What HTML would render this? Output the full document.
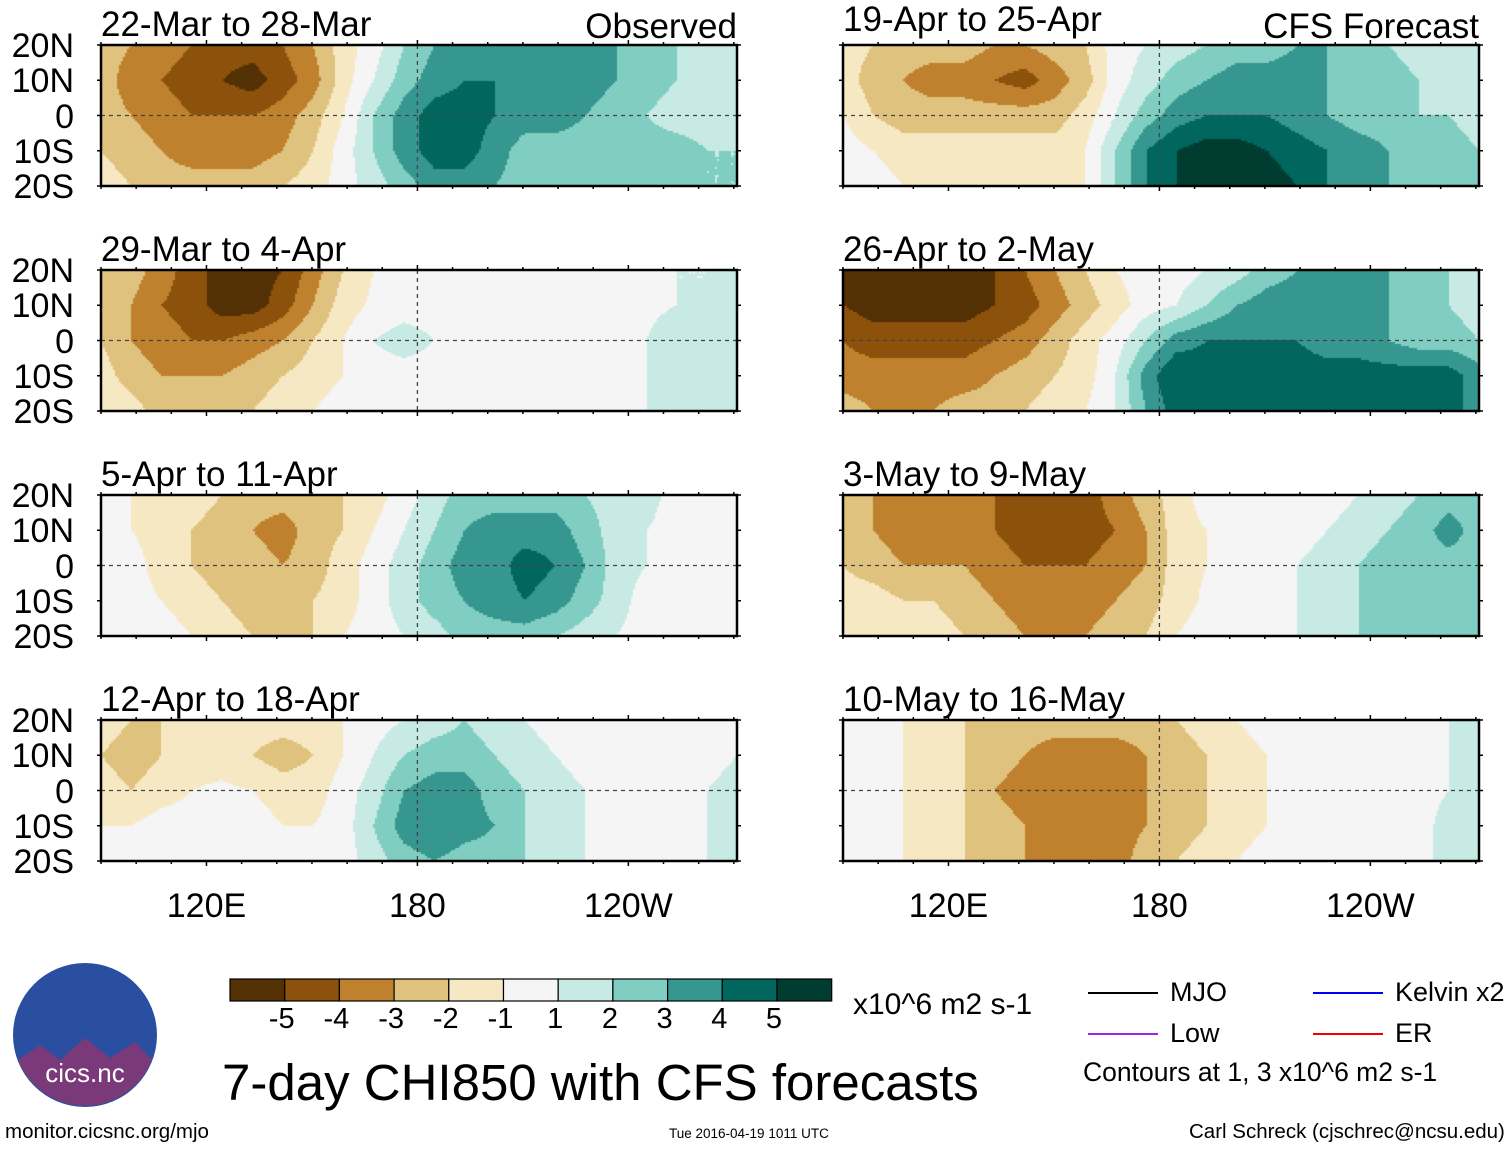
<!DOCTYPE html>
<html><head><meta charset="utf-8"><style>
body{margin:0;background:#fff;}
#root{position:relative;width:1510px;height:1149px;overflow:hidden;font-family:"Liberation Sans",sans-serif;color:#000;}
.t{position:absolute;white-space:nowrap;line-height:1;}
canvas{position:absolute;}
</style></head><body>
<div id="root">
<svg id="ov" width="1510" height="1149" style="position:absolute;left:0;top:0;z-index:2"></svg>
<div class="t" style="left:222px;top:1057px;font-size:51px">7-day CHI850 with CFS forecasts</div>
<div class="t" style="left:853px;top:990px;font-size:30px">x10^6 m2 s-1</div>
<div class="t" style="left:1083px;top:1059px;font-size:26.5px">Contours at 1, 3 x10^6 m2 s-1</div>
<div class="t" style="left:5px;top:1122px;font-size:20.5px">monitor.cicsnc.org/mjo</div>
<div class="t" style="left:669px;top:1127px;font-size:13.5px">Tue 2016-04-19 1011 UTC</div>
<div class="t" style="left:1189px;top:1122px;font-size:20.5px">Carl Schreck (cjschrec@ncsu.edu)</div>
</div>
<script>
const lons=[90,98.6,107.2,115.8,124.5,133.1,141.7,150.3,158.9,167.5,176.2,184.8,193.4,202,210.6,219.2,227.8,236.5,245.1,253.7,262.3,270.9];
const lats=[20,10,0,-10,-20];
const panelTitles=["22-Mar to 28-Mar","29-Mar to 4-Apr","5-Apr to 11-Apr","12-Apr to 18-Apr","19-Apr to 25-Apr","26-Apr to 2-May","3-May to 9-May","10-May to 16-May"];
const p1=[[-2,-2.5,-3,-3.5,-4,-4,-3.5,-2.5,-1,0,1.5,2.5,3,3,3,3,3,2.5,2,1.5,1,1],[-2,-3,-3.5,-4,-4.5,-5,-4,-3,-1,0.5,2,3,3.5,3.5,3.2,3,3,2.5,2,1.5,1,1],[-2,-2.5,-3,-3.5,-3.5,-3.5,-3,-2,-0.5,1.5,3,4,4,3.5,3,3,2.5,2,1.5,1,1,1],[-1.5,-2,-2.5,-3,-3,-3,-2.5,-1.5,0,1.5,3,4,4,3,2,2,2,2,2,2,1.5,1.5],[-1,-1.5,-2,-2,-2,-2,-1.5,-1,0,1,2,3,3,2.5,2,2,2,2,2,2,1.5,1.5]];
const p2=[[-1.5,-2,-3,-4,-5,-5,-4.5,-3,-1.5,-0.5,0,0,0,0,0,0,0,0,0,0.5,0.5,1],[-1.5,-2.5,-3.5,-4,-5,-5,-4,-2.5,-1,-0.3,0,0,0,0,0,0,0,0,0.3,0.5,0.5,1],[-1.5,-2.5,-3,-3.5,-3.5,-3,-2.5,-1.5,-0.5,0.5,1,0.5,0.3,0,0,0,0,0,0.5,1,1,1],[-1,-2,-2.5,-2.5,-2.5,-2,-1.5,-1,-0.5,0,0,0,0,0,0,0,0,0,0.5,1,1,1],[-0.5,-1,-2,-2,-1.5,-1.5,-1,-0.5,0,0,0,0.5,0.5,0.3,0,0,0,0,0.5,1,1,1]];
const p3=[[0,-0.5,-1,-1,-1.5,-2,-2,-2,-1.5,-1,0,1,2,2,2,2,1.5,1,1,0,0,0],[0,-0.5,-1,-1.5,-2,-2.5,-3,-2,-1.5,-0.5,0.5,1.5,2.5,3,3,3,2,1,0.5,0,0,0],[0,0,-1,-1.5,-2,-2,-2.5,-2,-1,0,1,2,3,3,4,3.5,2.5,1,0.5,0,0,0],[0,0,-0.5,-1,-1.5,-2,-2,-1.5,-1,0,1,2,2.5,3,3.5,3,2,1,0,0,0,0],[0,0,0,-0.5,-1,-1.5,-1.5,-1.5,-0.5,0,0.5,1,2,2,2,1.5,1,0.5,0,0,0,0]];
const p4=[[-1,-1.5,-1.5,-1,-1,-1,-1,-1,-0.5,0,0.5,1,1.5,1,0.5,0,0,0,0,0,0,0.5],[-1.5,-2,-1.5,-1,-1,-1.5,-2,-1.5,-0.5,0.5,1.5,2,2,1.5,1,0.5,0,0,0,0,0,0.5],[-1,-1.5,-1,-0.5,-0.3,-0.5,-1,-1,0,1,2.5,3,3,2,1.5,1,0.5,0,0,0,0.5,1],[-0.5,-0.5,0,0,0,0,-0.5,-0.5,0,1.5,3,3.5,3,2.5,1.5,1,0.5,0,0,0,0.5,1],[0,0,0,0,0,0,0,0,0,1,2,2.5,2,2,1.5,1,0.5,0,0,0,0.5,1]];
const p5=[[-1,-1.5,-2,-2,-2,-2.5,-2.5,-2,-1.5,0,0.5,1,1.5,2,2,2.5,2.5,2,1.5,1,1,1],[-1,-2,-2.5,-3,-3,-3.5,-4,-3,-2,0,1,2,2.5,3,3,3,2.5,2,2,1.5,1,1],[-0.5,-1.5,-2,-2,-2,-2,-2,-2,-1,0.5,2,3,3.5,3.5,3.5,3,2.5,2,2,1.5,1.5,1],[0,-0.5,-1,-1,-1,-1,-1,-1,-0.5,1.5,3.5,4.5,5,5,4.5,4,3.5,3,2.5,2,2,1.5],[0,0,-0.5,-0.5,-0.5,-0.5,-0.5,-1,-0.5,1.5,3.5,4.5,5,5,5,4.5,3.5,3,2.5,2,2,1.5]];
const p6=[[-4.5,-5,-5,-5,-5,-4.5,-3.5,-2.5,-1.5,-0.5,0,0,0.5,1,2,2.5,3,3,2.5,2,1.5,1],[-4.5,-5,-5,-5,-5,-4.5,-4,-3,-2,-1,0,0.5,1.5,2.5,3,3,3,3,2.5,2,1.5,1],[-3.5,-4,-4,-4,-4,-3.5,-3,-2,-1,0,1.5,3,3.5,3.5,3.5,3.5,3,3,2.5,2,2,1.5],[-3,-3,-3,-3,-3,-2.5,-2,-1.5,-1,0.5,3,4.5,4,4,4,4,4,4,4,4,4,3],[-2,-2.5,-2.5,-2.5,-2,-2,-1.5,-1,-0.5,0.5,2.5,4,4,4,4,4,4,4,4,4.5,4,3]];
const p7=[[-2,-2.5,-3,-3,-3,-3.5,-4,-4,-4,-3,-2,-1,0,0,0,0,0,0.5,1,1.5,2,2],[-2,-2.5,-3,-3,-3,-3.5,-4,-4.5,-4,-3.5,-2.5,-1,-0.5,0,0,0,0.5,1,1.5,2,3,2],[-1.5,-2,-2.5,-2.5,-2.5,-3,-3.5,-3.5,-3.5,-3,-2.5,-1,-0.5,0,0,0.5,1,1.5,2,2,2,2],[-1,-1,-1.5,-1.5,-2,-2.5,-3,-3,-3,-2.5,-2,-1,-0.3,0,0,0.5,1,1.5,2,2,2,2],[-0.5,-0.5,-1,-1,-1.5,-2,-2.5,-3,-2.5,-2,-1.5,-0.5,0,0,0,0.5,1,1.5,1.5,2,2,2]];
const p8=[[0,0,-0.5,-1,-1.5,-2,-2,-2,-2,-2,-2,-1.5,-1,-0.5,0,0,0,0,0,0,0.5,1],[0,0,-0.5,-1,-1.5,-2,-2.5,-3,-3,-3,-2.5,-2,-1.5,-1,-0.5,0,0,0,0,0,0.5,1],[0,0,-0.5,-1,-1.5,-2.5,-3,-3,-3,-3,-2.5,-2,-1.5,-1,-0.5,0,0,0,0,0,0.5,1],[0,0,-0.5,-1,-1.5,-2,-2.5,-3,-3,-3,-2.5,-2,-1.5,-1,-0.5,0,0,0,0,0,1,1],[0,0,-0.5,-1,-1.5,-2,-2.5,-3,-3,-3,-2,-1.5,-1,-0.5,0,0,0,0,0,0,1,1]];
const panelData=[p1,p2,p3,p4,p5,p6,p7,p8];
const colorLevels=[-5,-4,-3,-2,-1,0,1,2,3,4,5];
const colorLabels=["-5","-4","-3","-2","-1","1","2","3","4","5"];
const palette=["#543005","#8c510a","#bf812d","#dfc27d","#f6e8c3","#f5f5f5","#c7eae5","#80cdc1","#35978f","#01665e","#003c30"];
const xTicks=[120,180,240];const xTickLabels=["120E","180","120W"];
const yTicks=[20,10,0,-10,-20];const yTickLabels=["20N","10N","0","10S","20S"];

const root=document.getElementById('root');
const ov=document.getElementById('ov');
const NS='http://www.w3.org/2000/svg';
const PW=636,PH=141;
const lonMin=90,lonMax=270.9;
function xs(lon){return (lon-lonMin)/(lonMax-lonMin)*PW;}
function ys(lat){return (20-lat)/40*PH;}
function interp(g,lon,lat){
  let i=0;while(i<lons.length-2&&lon>lons[i+1])i++;
  let a=(lon-lons[i])/(lons[i+1]-lons[i]);a=Math.max(0,Math.min(1,a));
  let fj=(20-lat)/10;let j=Math.min(Math.floor(fj),lats.length-2);let b=fj-j;
  return g[j][i]*(1-a)*(1-b)+g[j][i+1]*a*(1-b)+g[j+1][i]*(1-a)*b+g[j+1][i+1]*a*b;
}
function colorFor(v){let k=Math.round(v);k=Math.max(-5,Math.min(5,k));return palette[colorLevels.indexOf(k)];}
function mk(tag,attrs){const e=document.createElementNS(NS,tag);for(const k in attrs)e.setAttribute(k,attrs[k]);ov.appendChild(e);return e;}
function txt(s,left,top,size,extra){const d=document.createElement('div');d.className='t';d.style.left=left+'px';d.style.top=top+'px';d.style.fontSize=size+'px';if(extra)Object.assign(d.style,extra);d.textContent=s;root.appendChild(d);return d;}

const rowsY=[45,270,495,720];const colsX=[101,843];
panelData.forEach((g,p)=>{
  const col=p<4?0:1,row=p%4;
  const X=colsX[col],Y=rowsY[row];
  const c=document.createElement('canvas');c.width=PW;c.height=PH;c.style.left=X+'px';c.style.top=Y+'px';
  
  
  root.appendChild(c);
  const ctx=c.getContext('2d');const s=2;
  for(let px=0;px<PW;px+=s){for(let py=0;py<PH;py+=s){
    const lon=lonMin+(px+s/2)/PW*(lonMax-lonMin),lat=20-(py+s/2)/PH*40;
    ctx.fillStyle=colorFor(interp(g,lon,lat));ctx.fillRect(px,py,s,s);}}
  const eq=mk('line',{x1:X,x2:X+PW,y1:Y+ys(0),y2:Y+ys(0),stroke:'#444','stroke-width':1.3,'stroke-dasharray':'4,4'});
  
  const dl=mk('line',{x1:X+xs(180),x2:X+xs(180),y1:Y,y2:Y+PH,stroke:'#444','stroke-width':1.3,'stroke-dasharray':'4,4'});
  
  const fr=mk('rect',{x:X,y:Y,width:PW,height:PH,fill:'none',stroke:'#000','stroke-width':2.5});
  
  for(let lon=90;lon<=270;lon+=10){const big=(lon%60===0);
    mk('line',{x1:X+xs(lon),x2:X+xs(lon),y1:Y-(big?5:3),y2:Y,stroke:'#000','stroke-width':1.5});
    mk('line',{x1:X+xs(lon),x2:X+xs(lon),y1:Y+PH,y2:Y+PH+(big?5:3),stroke:'#000','stroke-width':1.5});}
  yTicks.forEach(l=>{mk('line',{x1:X-4,x2:X,y1:Y+ys(l),y2:Y+ys(l),stroke:'#000','stroke-width':1.5});mk('line',{x1:X+PW,x2:X+PW+4,y1:Y+ys(l),y2:Y+ys(l),stroke:'#000','stroke-width':1.5});});
  const tt=txt(panelTitles[p],X,Y-(p===4?43:38),35);
  
  
  if(col===0){yTickLabels.forEach((lab,k)=>{const d=txt(lab,0,Y+ys(yTicks[k])-16,34,{width:'74px',textAlign:'right'});
    
    });}
  if(row===3){xTickLabels.forEach((lab,k)=>{const d=txt(lab,X+xs(xTicks[k])-60,889,34,{width:'120px',textAlign:'center'});
    
    });}
});
const o=txt('Observed',537,9,35,{width:'200px',textAlign:'right'});
const f=txt('CFS Forecast',1229,9,35,{width:'250px',textAlign:'right'});

palette.forEach((col,i)=>{const r=mk('rect',{x:230+i*54.7,y:979,width:54.7,height:22,fill:col,stroke:'#000','stroke-width':1.2});
  });
colorLabels.forEach((lab,i)=>{const d=txt(lab,230+(i+1)*54.7-28,1005,29,{width:'50px',textAlign:'center'});
  });

const legendNames=["MJO","Kelvin x2","Low","ER"];const legendColors=["#000","#0000ee","#a020f0","#ee0000"];
legendNames.forEach((n,i)=>{const lx=i%2===0?1088:1313,ly=i<2?993:1034;
  const l=mk('line',{x1:lx,x2:lx+70,y1:ly,y2:ly,stroke:legendColors[i],'stroke-width':2});
  
  const d=txt(n,lx+82,ly-14,27);});

const lg=mk('circle',{cx:85,cy:1035,r:72,fill:'#2a4fa0'});
const lg2=mk('path',{d:'M18,1060 L40,1045 L60,1060 L85,1038 L110,1058 L135,1042 L152,1060 A72,72 0 0 1 18,1060 Z',fill:'#7a3a7a'});
const lt=mk('text',{x:85,y:1082,'font-size':26,'text-anchor':'middle',fill:'#fff','font-family':'Liberation Sans'});lt.textContent='cics.nc';

</script>
</body></html>
